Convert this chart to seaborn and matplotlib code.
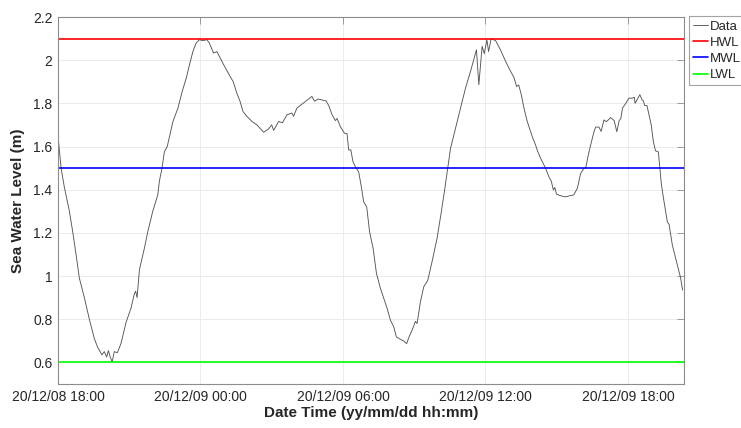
import numpy as np
import pandas as pd
import matplotlib
matplotlib.use("Agg")
import matplotlib.pyplot as plt
import matplotlib.dates as mdates
import seaborn as sns

# ---- data (hours after 2020-12-08 18:00, sea water level in m) ----
start_time = "2020-12-08 18:00"
hours = [0.00, 0.13, 0.27, 0.48, 0.62, 0.76, 0.90, 1.11, 1.32, 1.53, 1.67, 1.85, 1.95, 2.05, 2.12, 2.20,
         2.28, 2.37, 2.50, 2.65, 2.87, 3.07, 3.22, 3.27, 3.33, 3.43, 3.64, 3.78, 3.99, 4.20, 4.27, 4.38,
         4.48, 4.60, 4.84, 5.05, 5.23, 5.40, 5.54, 5.68, 5.82, 5.96, 6.10, 6.27, 6.37, 6.55, 6.69, 6.97,
         7.25, 7.38, 7.53, 7.67, 7.79, 7.96, 8.17, 8.38, 8.66, 8.85, 9.00, 9.08, 9.29, 9.45, 9.64, 9.85,
         9.92, 10.06, 10.20, 10.41, 10.69, 10.80, 10.96, 11.29, 11.40, 11.54, 11.68, 11.75, 11.89, 12.06,
         12.17, 12.24, 12.33, 12.42, 12.55, 12.66, 12.76, 12.87, 13.00, 13.12, 13.27, 13.41, 13.58, 13.72,
         13.86, 14.00, 14.14, 14.25, 14.45, 14.55, 14.68, 14.79, 14.91, 15.05, 15.12, 15.26, 15.40, 15.57,
         15.75, 15.96, 16.13, 16.27, 16.39, 16.53, 16.74, 16.95, 17.16, 17.37, 17.62, 17.72, 17.86, 17.95,
         18.06, 18.13, 18.24, 18.43, 18.63, 18.85, 19.06, 19.20, 19.31, 19.40, 19.51, 19.62, 19.76, 19.97,
         20.11, 20.19, 20.32, 20.53, 20.67, 20.77, 20.86, 20.92, 20.99, 21.09, 21.23, 21.37, 21.55, 21.72,
         21.87, 22.01, 22.15, 22.22, 22.33, 22.43, 22.57, 22.64, 22.78, 22.87, 22.99, 23.09, 23.27, 23.42,
         23.53, 23.63, 23.70, 23.77, 23.91, 24.04, 24.18, 24.27, 24.30, 24.50, 24.60, 24.65, 24.70, 24.80,
         24.98, 25.07, 25.16, 25.28, 25.41, 25.52, 25.66, 25.73, 25.87, 26.01, 26.15, 26.22, 26.30]
level = [1.65, 1.50, 1.41, 1.30, 1.205, 1.10, 0.99, 0.90, 0.80, 0.71, 0.67, 0.635, 0.65, 0.625, 0.655, 0.625,
         0.602, 0.65, 0.645, 0.687, 0.787, 0.85, 0.92, 0.93, 0.90, 1.03, 1.13, 1.205, 1.30, 1.375, 1.44, 1.50,
         1.576, 1.60, 1.716, 1.778, 1.855, 1.917, 1.98, 2.04, 2.08, 2.095, 2.09, 2.095, 2.08, 2.033, 2.04, 1.98,
         1.924, 1.90, 1.847, 1.808, 1.762, 1.739, 1.716, 1.70, 1.666, 1.68, 1.70, 1.675, 1.716, 1.71, 1.747, 1.755,
         1.74, 1.778, 1.79, 1.808, 1.832, 1.81, 1.82, 1.811, 1.79, 1.747, 1.72, 1.73, 1.692, 1.662,
         1.66, 1.584, 1.585, 1.530, 1.50, 1.483, 1.422, 1.344, 1.32, 1.205, 1.128, 1.012, 0.942, 0.896,
         0.85, 0.795, 0.764, 0.718, 0.705, 0.70, 0.687, 0.72, 0.749, 0.79, 0.78, 0.88, 0.95, 0.98,
         1.066, 1.174, 1.29, 1.391, 1.483, 1.592, 1.685, 1.778, 1.871, 1.948, 2.048, 1.886, 2.064, 2.03,
         2.095, 2.04, 2.10, 2.09, 2.048, 1.994, 1.948, 1.92, 1.878, 1.885, 1.84, 1.778, 1.716, 1.646,
         1.607, 1.58, 1.546, 1.50, 1.46, 1.44, 1.399, 1.41, 1.38, 1.375, 1.37, 1.367, 1.372, 1.376,
         1.407, 1.476, 1.50, 1.50, 1.561, 1.607, 1.669, 1.69, 1.69, 1.67, 1.723, 1.715, 1.734, 1.72,
         1.669, 1.72, 1.73, 1.778, 1.80, 1.824, 1.824, 1.828, 1.80, 1.84, 1.815, 1.812, 1.79, 1.79,
         1.70, 1.623, 1.58, 1.575, 1.422, 1.344, 1.251, 1.24, 1.143, 1.082, 1.02, 0.99, 0.935]

level_names = ["HWL", "MWL", "LWL"]
level_values = [2.1, 1.5, 0.6]
level_colors = ["#ff0000", "#0000ff", "#00ff00"]

y_ticks = [0.6, 0.8, 1.0, 1.2, 1.4, 1.6, 1.8, 2.0, 2.2]
y_tick_labels = ["0.6", "0.8", "1", "1.2", "1.4", "1.6", "1.8", "2", "2.2"]
x_tick_hours = [0, 6, 12, 18, 24]
x_end_hours = 26.36

# ---- figure ----
sns.set_theme(style="white")
plt.rcParams["font.family"] = ["Liberation Sans", "DejaVu Sans"]

t0 = pd.Timestamp(start_time)
df = pd.DataFrame({"time": t0 + pd.to_timedelta(hours, unit="h"), "level": level})

fig = plt.figure(figsize=(7.41, 4.28), dpi=100)
ax = fig.add_axes([58 / 741, 1 - 384 / 428, (684 - 58) / 741, (384 - 17) / 428])

sns.lineplot(data=df, x="time", y="level", ax=ax, color="#555555", linewidth=0.65,
             estimator=None, label="Data")
for name, val, col in zip(level_names, level_values, level_colors):
    ax.axhline(val, color=col, linewidth=1.2, label=name)

ax.set_xlim(t0, t0 + pd.Timedelta(hours=x_end_hours))
ax.set_ylim(0.5, 2.2)
ax.set_yticks(y_ticks)
ax.set_yticklabels(y_tick_labels)
ax.set_xticks([t0 + pd.Timedelta(hours=h) for h in x_tick_hours])
ax.xaxis.set_major_formatter(mdates.DateFormatter("%y/%m/%d %H:%M"))

ax.grid(True, color="#ebebeb", linewidth=0.7)
ax.set_axisbelow(True)
for sp in ax.spines.values():
    sp.set_color("#8c8c8c")
    sp.set_linewidth(0.8)
ax.tick_params(direction="in", length=5, width=0.6, color="#8c8c8c",
               top=True, right=True, labelsize=10, labelcolor="#262626", pad=4)

ax.set_xlabel("Date Time (yy/mm/dd hh:mm)", fontsize=11, fontweight="bold", color="#262626", labelpad=2)
ax.set_ylabel("Sea Water Level (m)", fontsize=11, fontweight="bold", color="#262626", labelpad=6)

if ax.legend_ is not None:
    ax.legend_.remove()
handles, labels = ax.get_legend_handles_labels()
leg = fig.legend(handles, labels, loc="upper left", bbox_to_anchor=(689 / 741, 1 - 16.5 / 428),
                 fontsize=9.5, frameon=True, fancybox=False, edgecolor="#8c8c8c",
                 handlelength=1.15, handletextpad=0.1, labelspacing=0.3, borderpad=0.3,
                 borderaxespad=0)
leg.get_frame().set_linewidth(0.8)
for t in leg.get_texts():
    t.set_color("#262626")

fig.savefig("out.png", dpi=100)
